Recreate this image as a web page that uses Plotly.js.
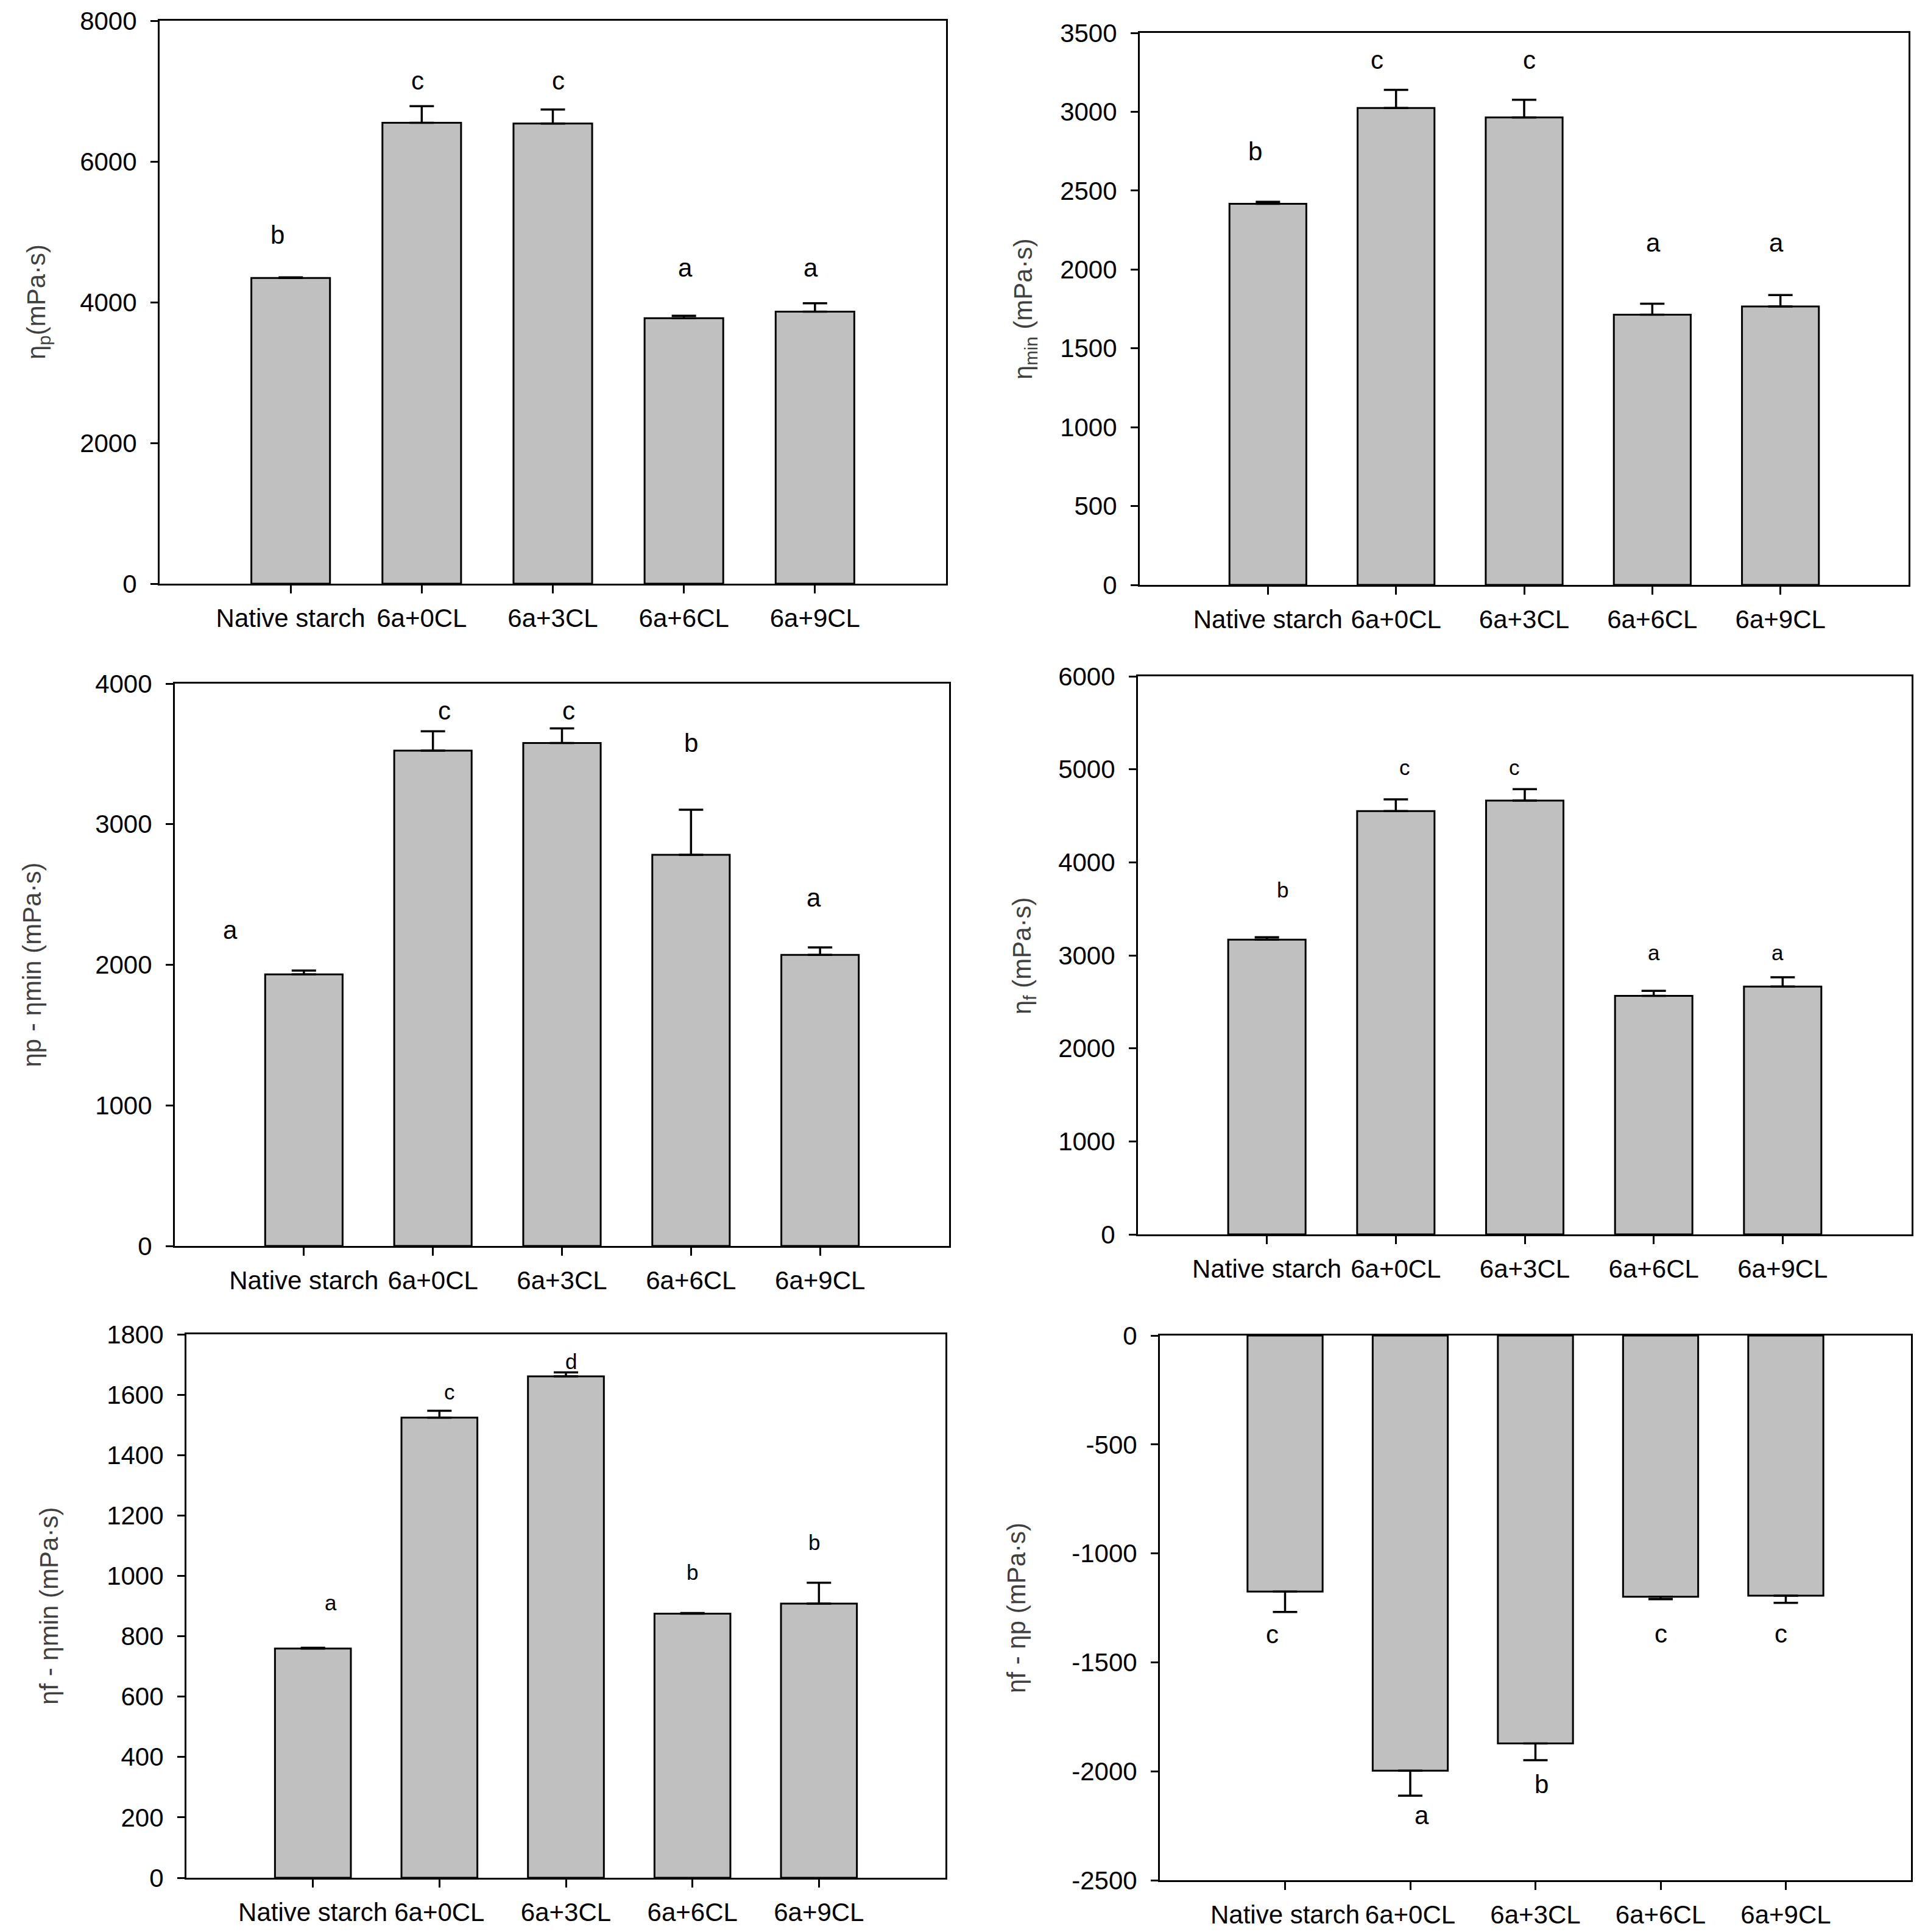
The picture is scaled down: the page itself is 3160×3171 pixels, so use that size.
<!DOCTYPE html>
<html><head><meta charset="utf-8">
<script src="https://cdn.plot.ly/plotly-3.0.1.min.js"></script>
<style>html,body{margin:0;padding:0;background:#fff}</style>
</head><body>
<div id="chart" style="width:3160px;height:3171px"></div>
<script>
// ---------- data ----------
const categories = ["Native starch", "6a+0CL", "6a+3CL", "6a+6CL", "6a+9CL"];

const etaP        = [4345, 6550, 6538, 3772, 3865];
const etaPErr     = [8, 235, 200, 35, 120];
const etaPLetters = ["b", "c", "c", "a", "a"];
const etaPLetterY = [4960, 7150, 7150, 4490, 4490];
const etaPLetterX = [-0.1, 0.97, 2.04, 3.01, 3.97];

const etaMin        = [2416, 3024, 2964, 1713, 1765];
const etaMinErr     = [13, 115, 112, 70, 73];
const etaMinLetters = ["b", "c", "c", "a", "a"];
const etaMinLetterY = [2750, 3330, 3330, 2168, 2168];
const etaMinLetterX = [-0.1, 0.85, 2.04, 3.01, 3.97];

const breakdown        = [1932, 3523, 3577, 2782, 2070];
const breakdownErr     = [27, 138, 105, 321, 54];
const breakdownLetters = ["a", "c", "c", "b", "a"];
const breakdownLetterY = [2245, 3805, 3805, 3577, 2476];
const breakdownLetterX = [-0.57, 1.09, 2.05, 3.0, 3.95];

const etaF        = [3168, 4550, 4664, 2565, 2665];
const etaFErr     = [27, 127, 122, 54, 100];
const etaFLetters = ["b", "c", "c", "a", "a"];
const etaFLetterY = [3707, 5020, 5020, 3032, 3032];
const etaFLetterX = [0.12, 1.07, 1.92, 3.0, 3.96];

const setback        = [759, 1524, 1661, 875, 908];
const setbackErr     = [3, 23, 13, 2, 69];
const setbackLetters = ["a", "c", "d", "b", "b"];
const setbackLetterY = [911, 1609, 1711, 1011, 1111];
const setbackLetterX = [0.14, 1.08, 2.04, 3.0, 3.96];

const fMinusP        = [-1175, -1997, -1872, -1199, -1194];
const fMinusPErr     = [94, 115, 77, 11, 33];
const fMinusPLetters = ["c", "a", "b", "c", "c"];
const fMinusPLetterY = [-1373, -2201, -2060, -1369, -1369];
const fMinusPLetterX = [-0.1, 1.09, 2.05, 3.0, 3.96];

const negTickVals = [0, -500, -1000, -1500, -2000, -2500];
const negTickText = ["0", "-500", "-1000", "-1500", "-2000", "-2500"];

// ---------- layout configuration ----------
const W = 3160, H = 3171;
const FONT = "Liberation Sans, Arial, Helvetica, sans-serif";

const panels = [
  {v: etaP, e: etaPErr, L: etaPLetters, ly: etaPLetterY, lx: etaPLetterX,
   range: [0, 8000], dtick: 2000, box: [262, 34, 1553, 958],
   title: "η<sub>p</sub>(mPa·s)", titleX: 62, lsize: 42},
  {v: etaMin, e: etaMinErr, L: etaMinLetters, ly: etaMinLetterY, lx: etaMinLetterX,
   range: [0, 3500], dtick: 500, box: [1871, 54, 3133, 960],
   title: "η<sub>min</sub> (mPa·s)", titleX: 1682, lsize: 42},
  {v: breakdown, e: breakdownErr, L: breakdownLetters, ly: breakdownLetterY, lx: breakdownLetterX,
   range: [0, 4000], dtick: 1000, box: [287, 1122, 1558, 2045],
   title: "ηp - ηmin (mPa·s)", titleX: 52, lsize: 42},
  {v: etaF, e: etaFErr, L: etaFLetters, ly: etaFLetterY, lx: etaFLetterX,
   range: [0, 6000], dtick: 1000, box: [1868, 1110, 3138, 2026],
   title: "η<sub>f</sub> (mPa·s)", titleX: 1680, lsize: 35},
  {v: setback, e: setbackErr, L: setbackLetters, ly: setbackLetterY, lx: setbackLetterX,
   range: [0, 1800], dtick: 200, box: [306, 2190, 1552, 3082],
   title: "ηf - ηmin (mPa·s)", titleX: 80, lsize: 35},
  {v: fMinusP, e: fMinusPErr, L: fMinusPLetters, ly: fMinusPLetterY, lx: fMinusPLetterX,
   range: [-2500, 0], box: [1904, 2192, 3137, 3086],
   tickvals: negTickVals, ticktext: negTickText,
   title: "ηf - ηp (mPa·s)", titleX: 1668, lsize: 42}
];

const data = [];
const layout = {
  width: W, height: H,
  margin: {l: 0, r: 0, t: 0, b: 0},
  paper_bgcolor: "#fff", plot_bgcolor: "#fff",
  showlegend: false, hovermode: false,
  font: {family: FONT, color: "#000", size: 42},
  annotations: []
};

panels.forEach((p, i) => {
  const s = i === 0 ? "" : String(i + 1);
  const [l, t, r, b] = p.box;
  const neg = p.v.map(v => v < 0);
  data.push({
    type: "bar", x: categories, y: p.v, width: 0.6,
    xaxis: "x" + s, yaxis: "y" + s,
    marker: {color: "#c0c0c0", line: {color: "#000", width: 3}},
    error_y: {
      type: "data", symmetric: false,
      array: p.e.map((e, k) => neg[k] ? 0 : e),
      arrayminus: p.e.map((e, k) => neg[k] ? e : 0),
      color: "#000", thickness: 3.5, width: 20
    }
  });
  layout["xaxis" + s] = {
    domain: [l / W, r / W], anchor: "y" + s,
    type: "category", range: [-1, 5],
    showline: true, mirror: true, linecolor: "#000", linewidth: 3,
    ticks: "outside", ticklen: 13, tickwidth: 3, tickcolor: "#000",
    showgrid: false, zeroline: false,
    tickfont: {family: FONT, size: 42, color: "#000"},
    ticklabelstandoff: 5
  };
  const ya = {
    domain: [1 - b / H, 1 - t / H], anchor: "x" + s,
    range: p.range,
    showline: true, mirror: true, linecolor: "#000", linewidth: 3,
    ticks: "outside", ticklen: 12, tickwidth: 3, tickcolor: "#000",
    showgrid: false, zeroline: false, exponentformat: "none",
    tickfont: {family: FONT, size: 42, color: "#000"},
    ticklabelstandoff: 14
  };
  if (p.tickvals) { ya.tickmode = "array"; ya.tickvals = p.tickvals; ya.ticktext = p.ticktext; }
  else { ya.tick0 = 0; ya.dtick = p.dtick; }
  layout["yaxis" + s] = ya;

  p.L.forEach((txt, k) => {
    layout.annotations.push({
      xref: "x" + s, yref: "y" + s, x: p.lx[k], y: p.ly[k],
      text: txt, showarrow: false, xanchor: "center", yanchor: "middle",
      font: {family: FONT, size: p.lsize, color: "#000"}
    });
  });
  layout.annotations.push({
    xref: "paper", yref: "paper",
    x: p.titleX / W, y: 1 - ((t + b) / 2) / H,
    text: p.title, textangle: -90, showarrow: false,
    xanchor: "center", yanchor: "middle",
    font: {family: FONT, size: 42, color: "#404040"}
  });
});

Plotly.newPlot("chart", data, layout, {displayModeBar: false, staticPlot: true});
</script>
</body></html>
